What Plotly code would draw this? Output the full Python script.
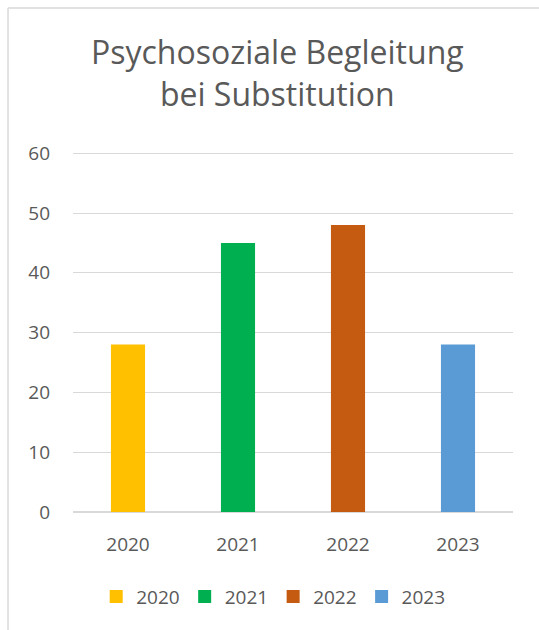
import plotly.graph_objects as go

# Jahreswerte der psychosozialen Begleitung
years = ["2020", "2021", "2022", "2023"]
values = [28, 45, 48, 28]
colors = ["#FFC000", "#00B050", "#C55A11", "#5B9BD5"]
y_ticks = [0, 10, 20, 30, 40, 50, 60]

FONT = "Open Sans, Calibri, sans-serif"
TEXT = "#595959"
GRID = "#D9D9D9"

fig = go.Figure()
for yr, val, col in zip(years, values, colors):
    fig.add_trace(go.Bar(
        x=[yr], y=[val], name=yr, showlegend=False,
        marker=dict(color=col, line=dict(width=0)),
        width=0.31,
    ))
# Legendeneinträge mit größeren quadratischen Symbolen
for yr, col in zip(years, colors):
    fig.add_trace(go.Scatter(
        x=[None], y=[None], name=yr, mode="markers",
        marker=dict(symbol="square", size=13, color=col),
    ))

fig.update_layout(
    width=539, height=630,
    margin=dict(l=73, r=26, t=152, b=118),
    paper_bgcolor="white", plot_bgcolor="white",
    barmode="overlay",
    font=dict(family=FONT, color=TEXT, size=19),
    showlegend=True,
    legend=dict(
        orientation="h", x=0.455, xanchor="center", y=-0.235, yanchor="middle",
        font=dict(size=19, color=TEXT), itemwidth=30, traceorder="normal",
    ),
    xaxis=dict(
        type="category", categoryorder="array", categoryarray=years,
        showgrid=False, zeroline=False, showline=False,
        ticks="", ticklabelstandoff=19, tickfont=dict(size=19, color=TEXT),
    ),
    yaxis=dict(
        range=[0, 60.2], tickvals=y_ticks, showgrid=True, gridcolor=GRID, gridwidth=1.2,
        zeroline=True, zerolinecolor=GRID, zerolinewidth=1.5,
        showline=False, ticks="", ticklabelstandoff=22,
        tickfont=dict(size=19, color=TEXT),
    ),
    annotations=[dict(
        text="Psychosoziale Begleitung<br>bei Substitution",
        xref="paper", yref="paper", x=0.465, y=1.22, xanchor="center", yanchor="middle",
        showarrow=False, font=dict(size=32, color=TEXT, family=FONT),
    )],
    shapes=[
        dict(type="line", xref="paper", yref="paper", x0=-0.1477, x1=-0.1477, y0=-0.5, y1=1.4,
             line=dict(color=GRID, width=1.5)),
        dict(type="line", xref="paper", yref="paper", x0=-0.1477, x1=1.2, y0=1.4, y1=1.4,
             line=dict(color=GRID, width=1.5)),
    ],
)

fig.write_html("out.html")
